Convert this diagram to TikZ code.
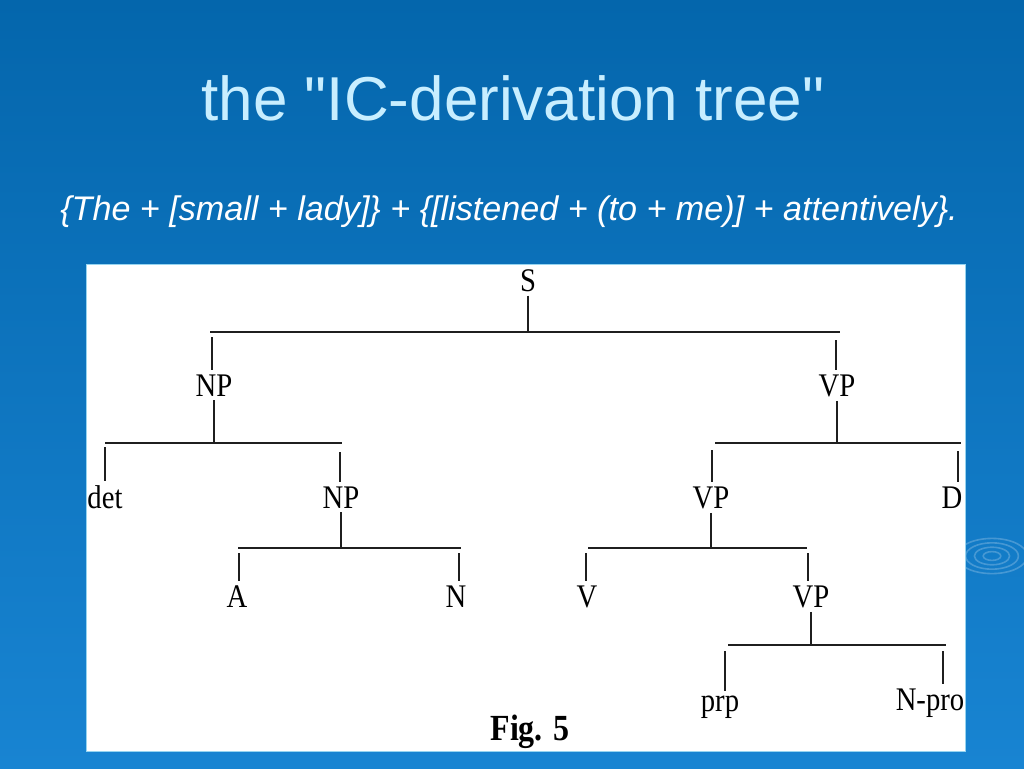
\documentclass[tikz,border=0pt]{standalone}
\usepackage{fontspec}
\setmainfont{Liberation Serif}
\newfontfamily\slidesans{Liberation Sans}
\definecolor{bgtop}{RGB}{4,102,172}
\definecolor{bgbot}{RGB}{24,132,210}
\definecolor{titleblue}{RGB}{200,238,255}
\definecolor{paneledge}{RGB}{150,212,240}
\tikzset{
  lbl/.style={anchor=base, inner sep=3pt, font=\fontsize{21.5}{21.5}\selectfont},
  tl/.style={line width=1.9pt, black!88},
  ripple/.style={draw=white, opacity=0.22, line width=1.2pt}
}
\newcommand{\tallt}[1]{\scalebox{1}[1.15]{#1}}
\begin{document}
\begin{tikzpicture}[x=0.75pt, y=-0.75pt]
\useasboundingbox (0,0) rectangle (1024,768);
\shade[top color=bgtop, bottom color=bgbot] (0,0) rectangle (1024,768);
% ripples
\foreach \r in {8,16,24,32}{
  \draw[ripple] (992,556) ellipse ({\r*1.1} and {\r*0.55});
}
% titles
\node[anchor=base, text=titleblue, font=\slidesans\fontsize{46.5}{46.5}\selectfont, inner sep=0] (title) at (513,120) {the "IC-derivation tree"};
\node[anchor=base, text=white, font=\slidesans\itshape\fontsize{25.6}{25.6}\selectfont, inner sep=0] (sub) at (509,220) {\{The + [small + lady]\} + \{[listened + (to + me)] + attentively\}.};
% panel
\node[draw=paneledge, line width=0.8pt, fill=white, minimum width=879*0.75pt, minimum height=487*0.75pt, inner sep=0, anchor=north west] (panel) at (86,264) {};
% tree nodes
\node[lbl] (S) at (528,291) {\tallt{S}};
\node[lbl] (NPa) at (214,396) {\tallt{NP}};
\node[lbl] (VPa) at (837,396) {\tallt{VP}};
\node[lbl] (det) at (105,508) {\tallt{det}};
\node[lbl] (NPb) at (341,508) {\tallt{NP}};
\node[lbl] (VPb) at (711,508) {\tallt{VP}};
\node[lbl] (D) at (952,508) {\tallt{D}};
\node[lbl] (A) at (237,607) {\tallt{A}};
\node[lbl] (N) at (456,607) {\tallt{N}};
\node[lbl] (V) at (587,607) {\tallt{V}};
\node[lbl] (VPc) at (811,607) {\tallt{VP}};
\node[lbl] (prp) at (720,711) {\tallt{prp}};
\node[lbl] (Npro) at (930,710) {\tallt{N-pro}};
\node[lbl, font=\fontsize{24}{24}\selectfont\bfseries] (fig) at (530,740) {\tallt{Fig. 5}};
% bars
\coordinate (b1L) at (210,332); \coordinate (b1R) at (840,332);
\coordinate (b2L) at (105,443); \coordinate (b2R) at (342,443);
\coordinate (b3L) at (238,548); \coordinate (b3R) at (461,548);
\coordinate (b4L) at (715,443); \coordinate (b4R) at (961,443);
\coordinate (b5L) at (588,548); \coordinate (b5R) at (807,548);
\coordinate (b6L) at (728,645); \coordinate (b6R) at (946,645);
\foreach \l/\r in {b1L/b1R,b2L/b2R,b3L/b3R,b4L/b4R,b5L/b5R,b6L/b6R}{
  \draw[tl] (\l) -- (\r);
}
% parent stems
\draw[tl] (S.south) -- (S.south |- b1L);
\draw[tl] (NPa.south) -- (NPa.south |- b2L);
\draw[tl] (NPb.south) -- (NPb.south |- b3L);
\draw[tl] (VPa.south) -- (VPa.south |- b4L);
\draw[tl] (VPb.south) -- (VPb.south |- b5L);
\draw[tl] (VPc.south) -- (VPc.south |- b6L);
% child stem tops (just under each bar)
\coordinate (cNPa) at (212,337);
\coordinate (cVPa) at (836,340);
\coordinate (cdet) at (105,447);
\coordinate (cNPb) at (340,452);
\coordinate (cA) at (239,553);
\coordinate (cN) at (459,553);
\coordinate (cVPb) at (712,450);
\coordinate (cD) at (958,451);
\coordinate (cV) at (586,553);
\coordinate (cVPc) at (808,553);
\coordinate (cprp) at (725,651);
\coordinate (cNpro) at (943,651);
% child stems
\draw[tl] (cNPa) -- (cNPa |- NPa.north);
\draw[tl] (cVPa) -- (cVPa |- VPa.north);
\draw[tl] (cdet) -- (cdet |- det.north);
\draw[tl] (cNPb) -- (cNPb |- NPb.north);
\draw[tl] (cA) -- (cA |- A.north);
\draw[tl] (cN) -- (cN |- N.north);
\draw[tl] (cVPb) -- (cVPb |- VPb.north);
\draw[tl] (cD) -- (cD |- D.north);
\draw[tl] (cV) -- (cV |- V.north);
\draw[tl] (cVPc) -- (cVPc |- VPc.north);
\draw[tl] (cprp) -- (cprp |- prp.north);
\draw[tl] (cNpro) -- (cNpro |- Npro.north);
\end{tikzpicture}
\end{document}
